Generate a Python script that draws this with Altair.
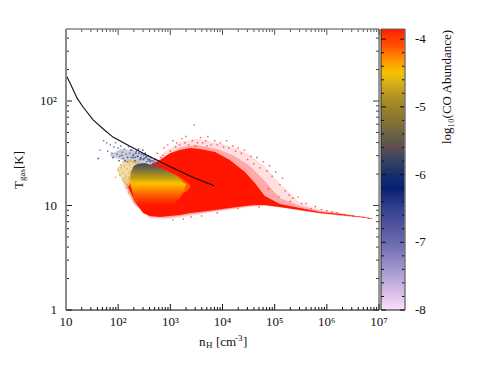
import altair as alt
import numpy as np
import pandas as pd

W, H = 313, 281
FONT = "'Liberation Serif', 'Times New Roman', serif"
XDOM = [10, 1e7]
YDOM = [1, 489]
CDOM = [-8, -3.85]

# colour map of log10(CO abundance)
cstops = [-8, -7.5, -7, -6.5, -6.2, -6, -5.7, -5.5, -5.2, -4.9, -4.5, -4.3, -4.1, -3.85]
ccols = ["#fcdffc", "#b0a3d6", "#6a69ae", "#33418f", "#0a2073", "#152f6b", "#444a5c", "#5e5a4c", "#867432", "#a88d24", "#f7c200", "#ff9000", "#ff5000", "#ff1500"]

# black curve
line_logn = [1.0, 1.08, 1.21, 1.33, 1.52, 1.72, 1.90, 2.2, 2.48, 3.0, 3.43, 3.84]
line_logt = [2.25, 2.17, 2.03, 1.94, 1.82, 1.73, 1.655, 1.575, 1.50, 1.37, 1.27, 1.19]

# pale envelopes of sparse outliers around the cloud
pale_logn = [2.10, 2.3, 2.6, 2.9, 3.2, 3.5, 3.9, 4.2, 4.5, 4.8, 5.1, 5.5, 5.9, 6.25, 6.6, 6.87]
pale_lo = [1.19, 1.01, 0.875, 0.865, 0.885, 0.91, 0.945, 0.965, 0.985, 0.995, 0.98, 0.95, 0.92, 0.90, 0.885, 0.87]
pale_hi = [1.25, 1.30, 1.36, 1.52, 1.61, 1.64, 1.60, 1.56, 1.49, 1.38, 1.21, 1.02, 0.96, 0.93, 0.90, 0.875]
mid_logn = [2.15, 2.3, 2.6, 2.9, 3.2, 3.5, 3.9, 4.2, 4.5, 4.8, 5.1, 5.5, 5.9, 6.25, 6.6, 6.87]
mid_lo = [1.18, 1.02, 0.89, 0.88, 0.90, 0.92, 0.95, 0.97, 0.99, 1.0, 0.983, 0.953, 0.924, 0.904, 0.888, 0.871]
mid_hi = [1.20, 1.28, 1.37, 1.47, 1.56, 1.58, 1.54, 1.48, 1.39, 1.24, 1.07, 0.995, 0.945, 0.925, 0.897, 0.876]

# faint slate and gold haze of sparse low-abundance gas at the left
slate_logn = [1.85, 2.05, 2.3, 2.5, 2.75, 2.95]
slate_lo = [1.47, 1.44, 1.40, 1.39, 1.36, 1.33]
slate_hi = [1.49, 1.54, 1.53, 1.50, 1.43, 1.37]
gold_logn = [1.98, 2.1, 2.25, 2.4]
gold_lo = [1.33, 1.22, 1.12, 1.08]
gold_hi = [1.36, 1.42, 1.44, 1.43]

# dense red body: log nH, lower and upper log T
red_logn = [2.19,2.32,2.48,2.61,2.80,2.99,3.185,3.38,3.57,3.86,4.14,4.43,4.62,4.81,5.10,5.485,5.87,6.25,6.635,6.87]
red_lo = [1.177,1.033,.928,.90,.89,.90,.909,.928,.938,.957,.976,.995,1.005,1.005,.986,.957,.928,.909,.89,.871]
red_hi = [1.177,1.263,1.34,1.388,1.435,1.50,1.531,1.55,1.54,1.512,1.435,1.32,1.215,1.09,1.014,.976,.938,.919,.895,.876]

# orange rim to the right of the yellow corner
rim_logn = [2.80, 2.99, 3.15, 3.26, 3.34, 3.38]
rim_lo = [1.014, 1.053, 1.09, 1.12, 1.148, 1.177]
rim_hi = [1.359, 1.321, 1.282, 1.244, 1.215, 1.196]

# low-abundance patch, shaded from grey through yellow to red
patch_logn = [2.23, 2.30, 2.38, 2.51, 2.71, 2.90, 3.09, 3.20, 3.26, 3.30]
patch_lo = [1.22, 1.07, 1.0, .976, .976, .995, 1.024, 1.081, 1.148, 1.196]
patch_hi = [1.30, 1.38, 1.40, 1.407, 1.378, 1.34, 1.292, 1.244, 1.215, 1.206]
patch_offsets = [0, 0.04, 0.12, 0.22, 0.34, 0.44, 0.50, 0.62, 0.76, 0.95, 1]
patch_colors = ["#4a5068", "#4f5058", "#6e6446", "#94802c", "#c0a010", "#f5c200", "#ffb000", "#ff8000", "#ff4a00", "#ff1500", "#ff1500"]

# sparse points (log nH, log T)
red_n = [2.75,2.82,2.88,2.95,3.0,3.05,3.1,3.12,3.18,3.22,3.28,3.3,3.35,3.42,3.46,3.52,3.58,3.62,3.68,3.72,3.78,3.85,3.9,3.96,4.02,4.08,4.12,4.2,4.25,4.3,4.36,4.42,4.48,4.55,4.6,4.66,4.72,4.78,4.85,4.9,4.95,5.02,5.1,5.15,5.2,5.28,5.35,5.45,5.52,5.6,5.7,5.78,5.9,6.0,6.1,6.2,6.35,6.5,6.7,6.8,
         2.5,2.58,2.66,2.72,2.8,2.86,2.94,3.04,3.15,3.3,3.48,3.7,2.42,2.35,2.28,2.22,3.05,3.25,3.4,3.6,3.9,4.3,4.7,4.88,5.08,5.3]
red_t = [1.50,1.46,1.55,1.58,1.52,1.62,1.56,1.60,1.58,1.64,1.60,1.66,1.58,1.62,1.77,1.60,1.65,1.60,1.62,1.66,1.58,1.62,1.58,1.60,1.56,1.62,1.55,1.57,1.52,1.55,1.50,1.53,1.44,1.47,1.40,1.46,1.36,1.42,1.33,1.38,1.28,1.32,1.20,1.26,1.14,1.10,1.07,1.08,1.02,1.02,0.97,0.99,0.96,0.95,0.94,0.93,0.91,0.90,0.89,0.88,
         1.32,1.38,1.36,1.44,1.42,1.48,1.40,1.46,1.50,1.52,1.57,1.57,1.0,1.07,1.13,1.18,0.86,0.87,0.89,0.90,0.93,0.97,0.985,1.16,1.08,1.04]
blue_n = [1.65,1.72,1.78,1.8,1.85,1.88,1.92,1.95,1.98,2.0,2.03,2.05,2.08,2.1,2.12,2.15,2.17,2.2,2.22,2.25,2.27,2.3,2.32,2.35,2.37,2.4,2.42,2.45,2.47,2.5,2.52,2.55,2.58,2.6,2.63,2.66,2.7,2.74,2.78,1.62,1.9,2.02,2.07,2.13,2.18,2.24,2.29,2.34,2.39,2.44,2.49,2.54,2.6,2.68,2.76,2.28,2.33,2.38,2.43,2.48,2.53,2.57,2.62,2.65,2.72,2.8,2.85]
blue_t = [1.53,1.62,1.60,1.52,1.58,1.50,1.56,1.60,1.49,1.55,1.47,1.57,1.51,1.45,1.54,1.49,1.42,1.56,1.50,1.46,1.53,1.49,1.43,1.52,1.47,1.50,1.44,1.49,1.53,1.45,1.50,1.42,1.47,1.44,1.46,1.40,1.44,1.41,1.39,1.45,1.46,1.43,1.48,1.43,1.46,1.53,1.46,1.50,1.54,1.46,1.48,1.47,1.43,1.42,1.41,1.48,1.46,1.47,1.45,1.44,1.46,1.44,1.42,1.43,1.40,1.38,1.37]
yel_n = [1.95,2.0,2.03,2.06,2.08,2.1,2.12,2.13,2.15,2.17,2.18,2.2,2.21,2.22,2.24,2.26,2.27,2.3,2.05,2.09,2.14,2.19,2.23,2.11,2.16,2.2,2.25,2.28,2.31,2.34,2.2,2.24,2.29,2.33]
yel_t = [1.27,1.34,1.29,1.36,1.24,1.31,1.38,1.22,1.28,1.35,1.2,1.31,1.25,1.39,1.18,1.29,1.36,1.22,1.39,1.42,1.42,1.41,1.33,1.26,1.17,1.12,1.1,1.14,1.08,1.04,1.27,1.21,1.3,1.41]

# axis ticks
x_major = [10**k for k in range(1, 8)]
x_minor = [m * 10**k for k in range(1, 7) for m in range(2, 10)]
y_major = [1, 10, 100]
y_minor = [m * 10**k for k in range(0, 3) for m in range(2, 10) if m * 10**k < 489]
x_labels = ["10", "10²", "10³", "10⁴", "10⁵", "10⁶", "10⁷"]
y_labels = ["1", "10", "10²"]
cb_major = [-8, -7, -6, -5, -4]
cb_minor = [-7.8,-7.6,-7.4,-7.2,-6.8,-6.6,-6.4,-6.2,-5.8,-5.6,-5.4,-5.2,-4.8,-4.6,-4.4,-4.2]

xs = alt.Scale(type="log", domain=XDOM, base=10, nice=False)
ys = alt.Scale(type="log", domain=YDOM, base=10, nice=False)
cs = alt.Scale(domain=cstops, range=ccols, clamp=True)
cbs = alt.Scale(domain=CDOM, nice=False, zero=False)

X = alt.X("x:Q", scale=xs, axis=None)
Y = alt.Y("y:Q", scale=ys, axis=None)

def band(n, lo, hi, **mark):
    df = pd.DataFrame({"x": 10**np.array(n), "y": 10**np.array(lo), "y2": 10**np.array(hi)})
    return alt.Chart(df).mark_area(**mark).encode(x=X, y=Y, y2="y2:Q")

def pts(n, t, color, op=0.8):
    df = pd.DataFrame({"x": 10**np.array(n), "y": 10**np.array(t)})
    return alt.Chart(df).mark_square(size=2, color=color, opacity=op, strokeWidth=0).encode(x=X, y=Y)

layers = [
    band(pale_logn, pale_lo, pale_hi, color="#ffb8b8", opacity=0.45),
    band(mid_logn, mid_lo, mid_hi, color="#ff7a7a", opacity=0.55),
    band(slate_logn, slate_lo, slate_hi, color="#7a82a8", opacity=0.4),
    band(gold_logn, gold_lo, gold_hi, color="#e0b040", opacity=0.45),
    pts(red_n, red_t, "#ff2a2a"),
    pts(blue_n, blue_t, "#4a5590"),
    band(red_logn, red_lo, red_hi, color="#ff1500"),
    band(rim_logn, rim_lo, rim_hi, color="#ff7000", opacity=0.8),
    band(patch_logn, patch_lo, patch_hi, color=alt.Gradient(
        gradient="linear", x1=0, x2=0, y1=0, y2=1,
        stops=[alt.GradientStop(offset=o, color=c) for o, c in zip(patch_offsets, patch_colors)])),
    pts(yel_n, yel_t, "#c9a21a", 0.7),
    pts(blue_n[22:], blue_t[22:], "#4a5590", 0.7),
]

line = pd.DataFrame({"x": 10**np.array(line_logn), "y": 10**np.array(line_logt)})
layers.append(alt.Chart(line).mark_line(color="#111111", strokeWidth=1.1).encode(x=X, y=Y))

def xticks(vals, ln):
    df = pd.DataFrame({"x": vals})
    return [alt.Chart(df).mark_rule(color="#111", strokeWidth=1).encode(x=X, y=alt.value(H), y2=alt.value(H - ln)),
            alt.Chart(df).mark_rule(color="#555", strokeWidth=1).encode(x=X, y=alt.value(0), y2=alt.value(ln))]

def yticks(vals, ln):
    df = pd.DataFrame({"y": vals})
    return [alt.Chart(df).mark_rule(color="#222", strokeWidth=1).encode(y=Y, x=alt.value(0), x2=alt.value(ln)),
            alt.Chart(df).mark_rule(color="#444", strokeWidth=1).encode(y=Y, x=alt.value(W), x2=alt.value(W - ln))]

layers += xticks(x_major, 6) + xticks(x_minor, 3) + yticks(y_major, 6) + yticks(y_minor, 3)

def seg(x1, y1, x2, y2, color, w):
    return alt.Chart(pd.DataFrame({"a": [0]})).mark_rule(color=color, strokeWidth=w).encode(
        x=alt.value(x1), y=alt.value(y1), x2=alt.value(x2), y2=alt.value(y2))

layers += [seg(0, 0, 0, H, "#8a8a8a", 2), seg(0, 0, W, 0, "#8a8a8a", 1.5),
           seg(0, H, W, H, "#111", 1), seg(W, 0, W, H, "#444", 1)]

def lab(values, labels, axis):
    df = pd.DataFrame({"v": values, "t": labels})
    if axis == "x":
        return alt.Chart(df).mark_text(font=FONT, fontSize=13, color="#111", baseline="middle").encode(
            x=alt.X("v:Q", scale=xs, axis=None), y=alt.value(H + 12), text="t:N")
    return alt.Chart(df).mark_text(font=FONT, fontSize=13, color="#111", align="right", baseline="middle").encode(
        y=alt.Y("v:Q", scale=ys, axis=None), x=alt.value(-9), text="t:N")

layers += [lab(x_major, x_labels, "x"), lab(y_major, y_labels, "y")]

def txt(s, x, y, size=13, angle=0, align="left"):
    return alt.Chart(pd.DataFrame({"t": [s]})).mark_text(font=FONT, fontSize=size, color="#111", align=align, baseline="middle", angle=angle).encode(
        x=alt.value(x), y=alt.value(y), text="t:N")

layers += [txt("n", 133, H + 32, 13), txt("H", 140, H + 35, 9), txt("[cm", 150, H + 32, 13),
           txt("-3", 169, H + 28, 9), txt("]", 177, H + 32, 13)]
layers += [txt("T", -47, 156, 13, 270, "center"), txt("gas", -44, 146, 9, 270, "center"),
           txt("[K]", -47, 131, 13, 270, "center")]

# colour bar
edges = np.linspace(CDOM[0], CDOM[1], 120)
cb = pd.DataFrame({"v": edges[:-1], "v2": np.minimum(edges[1:] + 0.04, CDOM[1]), "c": (edges[:-1] + edges[1:]) / 2})
CY = alt.Y("v:Q", scale=cbs, axis=None)
BX0, BX1 = W + 2, W + 26
layers.append(alt.Chart(cb).mark_rect().encode(x=alt.value(BX0), x2=alt.value(BX1), y=CY, y2="v2:Q",
                                               color=alt.Color("c:Q", scale=cs, legend=None)))
def cbt(vals, ln):
    df = pd.DataFrame({"v": vals})
    return [alt.Chart(df).mark_rule(color="#111", strokeWidth=1).encode(y=CY, x=alt.value(BX0), x2=alt.value(BX0 + ln)),
            alt.Chart(df).mark_rule(color="#111", strokeWidth=1).encode(y=CY, x=alt.value(BX1), x2=alt.value(BX1 - ln))]
layers += cbt(cb_major, 5) + cbt(cb_minor, 3)
layers += [seg(BX0, 0, BX0, H, "#222", 1), seg(BX1, 0, BX1, H, "#777", 1.5),
           seg(BX0, 0, BX1, 0, "#666", 1), seg(BX0, H, BX1, H, "#111", 1)]
cbl = pd.DataFrame({"v": cb_major, "t": [str(v) for v in cb_major]})
layers.append(alt.Chart(cbl).mark_text(font=FONT, fontSize=13, color="#111", align="left", baseline="middle").encode(
    y=CY, x=alt.value(W + 36), text="t:N"))
layers.append(txt("log₁₀(CO Abundance)", W + 68, 58, 13, 270, "center"))

chart = alt.layer(*layers).resolve_scale(y="independent", x="independent", color="shared").properties(
    width=W, height=H,
    autosize=alt.AutoSizeParams(type="none"),
    padding={"left": 58, "top": 21, "right": 100, "bottom": 50},
).configure_view(stroke=None).configure(background="white")

chart.save("out.html", embed_options={"renderer": "svg", "actions": False})
